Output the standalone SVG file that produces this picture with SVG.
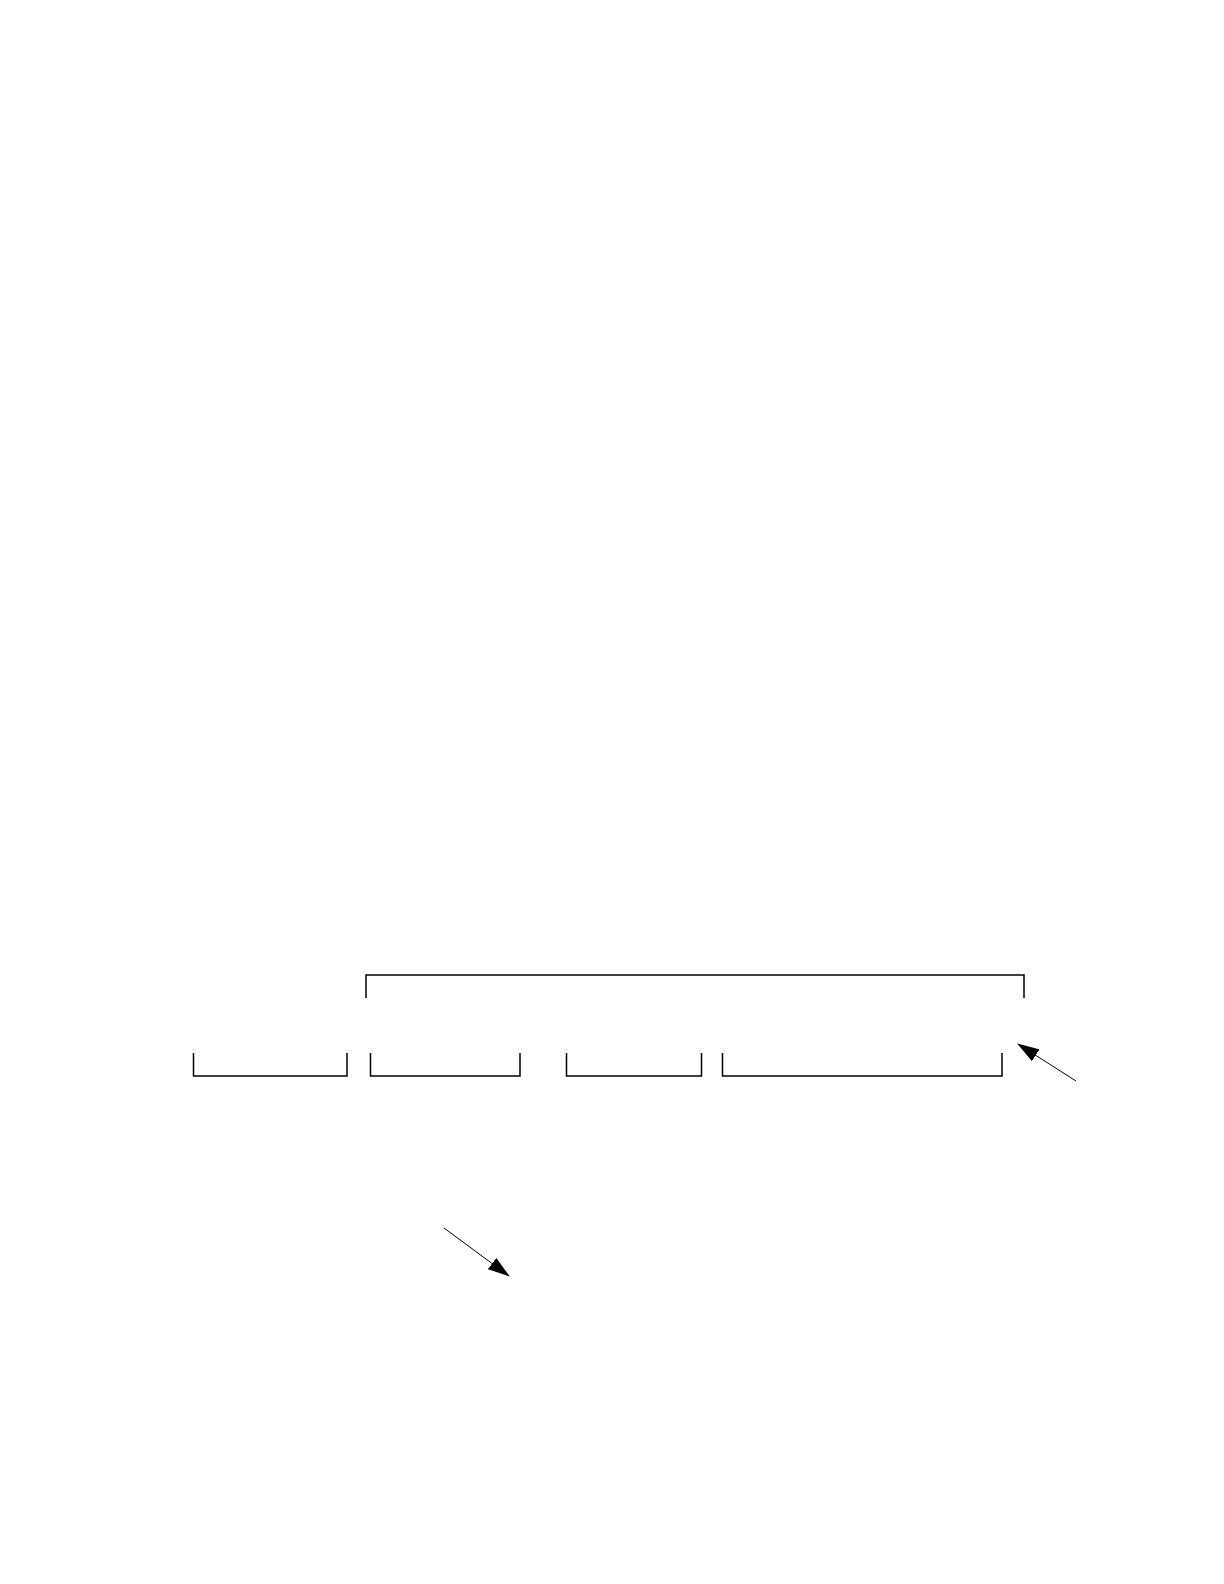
<svg xmlns="http://www.w3.org/2000/svg" width="1224" height="1584" viewBox="0 0 1224 1584">
<defs>
<style>
.br{fill:none;stroke:#000;stroke-width:1.5}
.ar{fill:none;stroke:#000;stroke-width:1}
</style>
<marker id="ah" markerWidth="22" markerHeight="14" refX="21" refY="7" orient="auto" markerUnits="userSpaceOnUse">
<path d="M0,0 L22,7 L0,14 Z" fill="#000"/>
</marker>
</defs>
<rect width="1224" height="1584" fill="#fff"/>
<g id="top-bracket"><path class="br" d="M366,998 V975 H1024 V998"/></g>
<g id="bracket-1"><path class="br" d="M193.5,1053 V1076 H347 V1053"/></g>
<g id="bracket-2"><path class="br" d="M370.5,1053 V1076 H520 V1053"/></g>
<g id="bracket-3"><path class="br" d="M566.5,1053 V1076 H701.5 V1053"/></g>
<g id="bracket-4"><path class="br" d="M722.5,1053 V1076 H1002 V1053"/></g>
<g id="connectors">
<line class="ar" x1="1076" y1="1081" x2="1018" y2="1044" marker-end="url(#ah)"/>
<line class="ar" x1="444" y1="1228" x2="509" y2="1276" marker-end="url(#ah)"/>
</g>
</svg>
